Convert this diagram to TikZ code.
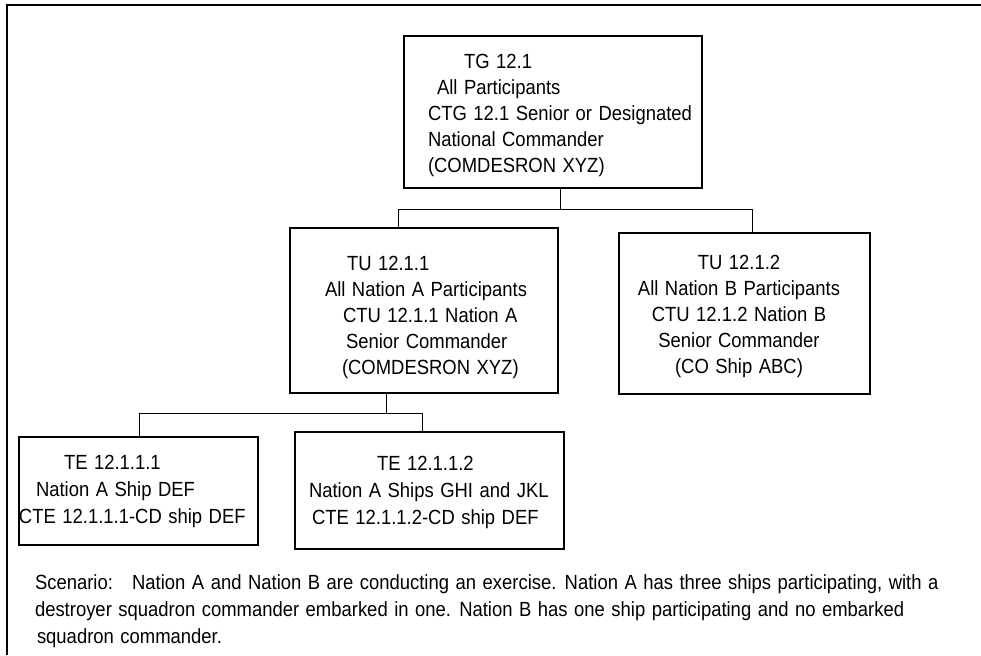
\documentclass[tikz,border=0pt]{standalone}
\usepackage{fontspec}
\setmainfont{Liberation Sans}[WordSpace=1.27, FakeStretch=0.9]
\begin{document}
\begin{tikzpicture}[x=1pt,y=-1pt,
  box/.style={draw=black, line width=1.2pt, inner sep=0pt, outer sep=0pt, anchor=north west},
  txt/.style={inner sep=0pt, outer sep=0pt, anchor=north west, align=left, font=\fontsize{20.5}{26}\selectfont},
  txtc/.style={inner sep=0pt, outer sep=0pt, anchor=north, align=center, font=\fontsize{20.5}{26}\selectfont},
  txtw/.style={txt, font=\fontsize{20.5}{27}\selectfont},
  conn/.style={draw=black, line width=1pt},
  frame/.style={draw=black, line width=1.6pt}]
\useasboundingbox (0,0) rectangle (981,655);
\fill[white] (0,0) rectangle (981,655);
% outer frame
\draw[frame] (981,5) -- (7,5) -- (7,655);
% boxes
\node[box, minimum width=298pt, minimum height=152pt] (tg) at (404,36) {};
\node[box, minimum width=268pt, minimum height=165pt] (tu1) at (290,228) {};
\node[box, minimum width=251pt, minimum height=161pt] (tu2) at (619,233) {};
\node[box, minimum width=239pt, minimum height=108pt] (te1) at (19,437) {};
\node[box, minimum width=269pt, minimum height=117pt] (te2) at (295,432) {};
% texts
\node[txt] (tgtext) at (428,52) {\rule{0pt}{16pt}\hspace*{36pt}TG 12.1\\
  \hspace*{9pt}All Participants\\
  CTG 12.1 Senior or Designated\\
  National Commander\\
  (COMDESRON XYZ)};
\node[txt] (tu1text) at (325,254) {\rule{0pt}{16pt}\hspace*{22pt}TU 12.1.1\\
  All Nation A Participants\\
  \hspace*{18pt}CTU 12.1.1 Nation A\\
  \hspace*{21pt}Senior Commander\\
  \hspace*{17pt}(COMDESRON XYZ)};
\node[txtc] (tu2text) at (739,253) {\rule{0pt}{16pt}TU 12.1.2\\
  All Nation B Participants\\
  CTU 12.1.2 Nation B\\
  Senior Commander\\
  (CO Ship ABC)};
\node[txtw] (te1text) at (19,453) {\rule{0pt}{16pt}\hspace*{45pt}TE 12.1.1.1\\
  \hspace*{17pt}Nation A Ship DEF\\
  CTE 12.1.1.1-CD ship DEF};
\node[txtw] (te2text) at (309,454) {\rule{0pt}{16pt}\hspace*{68pt}TE 12.1.1.2\\
  Nation A Ships GHI and JKL\\
  \hspace*{3pt}CTE 12.1.1.2-CD ship DEF};
\node[txtw] (scen) at (35,573) {\rule{0pt}{16pt}Scenario:\hspace{11pt} Nation A and Nation B are conducting an exercise. Nation A has three ships participating, with a\\
  destroyer squadron commander embarked in one. Nation B has one ship participating and no embarked\\
  \hspace*{2pt}squadron commander.};
% connectors
\coordinate (d0) at (560,209);
\coordinate (d1) at (398,209);
\coordinate (d2) at (752,209);
\draw[conn] (tg.south -| d0) -- (d0);
\draw[conn] (d1) -- (d2);
\draw[conn] (d1) -- (tu1.north -| d1);
\draw[conn] (d2) -- (tu2.north -| d2);
\coordinate (e0) at (386,413);
\coordinate (e1) at (139,413);
\coordinate (e2) at (422,413);
\draw[conn] (tu1.south -| e0) -- (e0);
\draw[conn] (e1) -- (e2);
\draw[conn] (e1) -- (te1.north -| e1);
\draw[conn] (e2) -- (te2.north -| e2);
\end{tikzpicture}
\end{document}
